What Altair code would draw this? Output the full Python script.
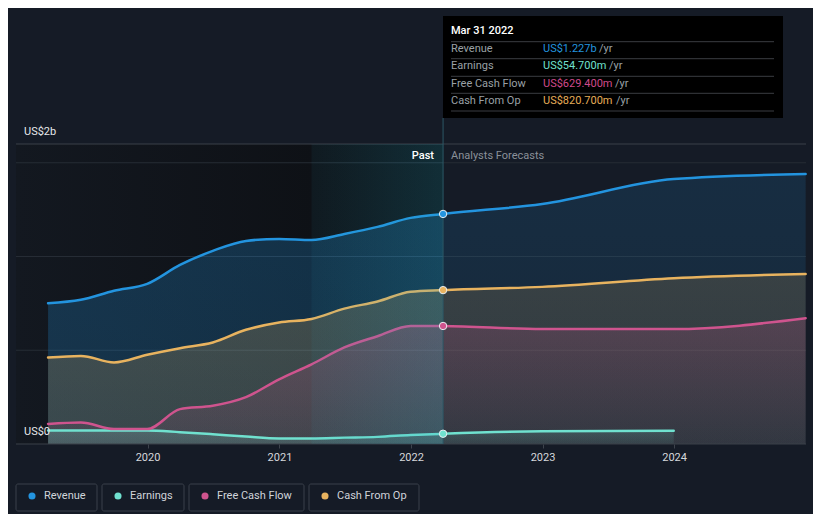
import altair as alt
import pandas as pd

# ---------------- data ----------------
dates = ["2019-03-31", "2019-06-30", "2019-09-30", "2019-12-31",
         "2020-03-31", "2020-06-30", "2020-09-30", "2020-12-31",
         "2021-03-31", "2021-06-30", "2021-09-30", "2021-12-31",
         "2022-03-31", "2022-12-31", "2023-12-31", "2024-12-31"]
# values in US$ billions
revenue = [0.751, 0.769, 0.817, 0.854, 0.955, 1.030, 1.083, 1.094,
           1.088, 1.120, 1.158, 1.206, 1.227, 1.280, 1.413, 1.440]
earnings = [0.072, 0.072, 0.072, 0.072, 0.063, 0.052, 0.040, 0.030,
            0.030, 0.034, 0.038, 0.048, 0.0547, 0.068, 0.071]
free_cash_flow = [0.107, 0.115, 0.080, 0.080, 0.186, 0.204, 0.250, 0.345,
                  0.425, 0.515, 0.575, 0.630, 0.6294, 0.613, 0.613, 0.671]
cash_from_op = [0.461, 0.470, 0.435, 0.476, 0.511, 0.541, 0.609, 0.648,
                0.667, 0.722, 0.760, 0.812, 0.8207, 0.838, 0.884, 0.907]

series_names = ["Revenue", "Earnings", "Free Cash Flow", "Cash From Op"]
series_colors = ["#2394df", "#70e1cf", "#cf548e", "#e8b35f"]
series_rgb = ["35,148,223", "112,225,207", "207,84,142", "232,179,95"]
tooltip_values = ["US$1.227b", "US$54.700m", "US$629.400m", "US$820.700m"]
tooltip_value_colors = ["#2394df", "#70e1cf", "#cf4a8c", "#e6ad58"]

x_ticks = [2020, 2021, 2022, 2023, 2024]
y_grid = [0.5, 1.0, 1.5]
y_top = 1.6
highlight_date = "2022-03-31"
highlight_label = "Mar 31 2022"
past_start = "2019-01-01"
ltm_start = "2021-03-31"
y_labels = ["US$2b", "US$0"]

# ---------------- tables ----------------
rows = []
for name, vals in zip(series_names, [revenue, earnings, free_cash_flow, cash_from_op]):
    for d, v in zip(dates, vals):
        rows.append({"date": d, "series": name, "value": v})
df = pd.DataFrame(rows)
df_hl = df[df["date"] == highlight_date]
df_past = df[df["date"] <= highlight_date]
df_fc = df[df["date"] >= highlight_date]

regions = pd.DataFrame({"start": [past_start], "end": [highlight_date]})
ltm = pd.DataFrame({"start": [ltm_start], "end": [highlight_date]})
grid_df = pd.DataFrame({"v": y_grid})
top_df = pd.DataFrame({"v": [y_top]})
zero_df = pd.DataFrame({"v": [0.0]})
hl_df = pd.DataFrame({"date": [highlight_date]})

FONT = "Roboto"
W, H = 790, 300

xscale = alt.Scale(type="utc",
                   domain=[alt.DateTime(year=2019, month=1, date=1, utc=True),
                           alt.DateTime(year=2025, month=1, date=1, utc=True)])
yscale = alt.Scale(domain=[0, y_top], nice=False, zero=True)
xaxis = alt.Axis(values=[alt.DateTime(year=y, month=1, date=1, utc=True) for y in x_ticks],
                 format="%Y", title=None, domain=False, grid=False,
                 tickColor="#3d434c", tickSize=4, labelColor="#d5d8dc",
                 labelFontSize=11, labelPadding=3, labelFont=FONT)


def xenc(field):
    return alt.X(f"{field}:T", scale=xscale, axis=xaxis)


def x2enc(field):
    return alt.X2(f"{field}:T")


yenc = alt.Y("value:Q", scale=yscale, axis=None)
color_scale = alt.Scale(domain=series_names, range=series_colors)

layers = []

# darker "past" background
layers.append(
    alt.Chart(regions).mark_rect(color={
        "gradient": "linear", "x1": 0, "y1": 0, "x2": 1, "y2": 0,
        "stops": [{"offset": 0, "color": "#131820"},
                  {"offset": 0.7, "color": "#0e1116"},
                  {"offset": 1, "color": "#0c0f13"}]}).encode(
        x=xenc("start"), x2=x2enc("end"), y=alt.value(0), y2=alt.value(H))
)

# grid lines
layers.append(
    alt.Chart(grid_df).mark_rule(color="#262c35", strokeWidth=1).encode(
        y=alt.Y("v:Q", scale=yscale, axis=None))
)

# areas: past (stronger) and forecast (softer)
past_tops = [0.25, 0.20, 0.24, 0.22]
past_bots = [0.22, 0.14, 0.08, 0.16]
fc_tops = [0.15, 0.16, 0.20, 0.16]
fc_bots = [0.11, 0.07, 0.04, 0.10]
for data, tops, bots in [(df_past, past_tops, past_bots), (df_fc, fc_tops, fc_bots)]:
    for idx in [0, 3, 2, 1]:
        name = series_names[idx]
        rgb = series_rgb[idx]
        layers.append(
            alt.Chart(data).transform_filter(alt.datum.series == name).mark_area(
                interpolate="monotone",
                color={"gradient": "linear", "x1": 0, "y1": 0, "x2": 0, "y2": 1,
                       "stops": [{"offset": 0, "color": f"rgba({rgb},{tops[idx]})"},
                                 {"offset": 1, "color": f"rgba({rgb},{bots[idx]})"}]}
            ).encode(x=xenc("date"), y=yenc)
        )

# top and bottom lines
layers.append(alt.Chart(top_df).mark_rule(color="#3b4049", strokeWidth=1).encode(
    y=alt.Y("v:Q", scale=yscale, axis=None)))
layers.append(alt.Chart(zero_df).mark_rule(color="#3b4049", strokeWidth=1).encode(
    y=alt.Y("v:Q", scale=yscale, axis=None)))

# lines
layers.append(
    alt.Chart(df).mark_line(interpolate="monotone", strokeWidth=2.5, strokeCap="round").encode(
        x=xenc("date"), y=yenc,
        color=alt.Color("series:N", scale=color_scale, legend=None),
        detail="series:N")
)

# last-twelve-months teal overlay
layers.append(
    alt.Chart(ltm).mark_rect(color={
        "gradient": "linear", "x1": 0, "y1": 0, "x2": 1, "y2": 0,
        "stops": [{"offset": 0, "color": "rgba(40,170,200,0.06)"},
                  {"offset": 1, "color": "rgba(40,170,200,0.20)"}]}).encode(
        x=xenc("start"), x2=x2enc("end"), y=alt.value(0), y2=alt.value(H))
)

# vertical marker line at highlight date
layers.append(
    alt.Chart(hl_df).mark_rule(color="#2c5865", strokeWidth=1).encode(
        x=xenc("date"), y=alt.value(-26), y2=alt.value(H))
)

# highlight points
layers.append(
    alt.Chart(df_hl).mark_circle(size=55, opacity=1, stroke="#e8eef2", strokeWidth=1).encode(
        x=xenc("date"), y=yenc,
        color=alt.Color("series:N", scale=color_scale, legend=None))
)


def txt(text, x, y, color="#e6e8eb", size=11, align="left", weight="normal"):
    return alt.Chart(pd.DataFrame({"t": [text]})).mark_text(
        align=align, baseline="middle", font=FONT, fontSize=size,
        color=color, fontWeight=weight).encode(
        text="t:N", x=alt.value(x), y=alt.value(y))


def box(x1, x2, y1, y2, fill=None, stroke=None, radius=0):
    kw = {}
    if fill is not None:
        kw["fill"] = fill
    else:
        kw["fillOpacity"] = 0
    if stroke is not None:
        kw["stroke"] = stroke
        kw["strokeWidth"] = 1
    if radius:
        kw["cornerRadius"] = radius
    return alt.Chart(pd.DataFrame({"a": [0]})).mark_rect(**kw).encode(
        x=alt.value(x1), x2=alt.value(x2), y=alt.value(y1), y2=alt.value(y2))


def hline(x1, x2, y, color):
    return alt.Chart(pd.DataFrame({"a": [0]})).mark_rule(color=color, strokeWidth=1).encode(
        x=alt.value(x1), x2=alt.value(x2), y=alt.value(y))


# Past / forecast labels
layers.append(txt("Past", 418, 12, color="#ffffff", align="right", weight=500))
layers.append(txt("Analysts Forecasts", 435, 12, color="#8a9099"))

# y labels
layers.append(txt(y_labels[0], 8, -12))
layers.append(txt(y_labels[1], 8, 288))

# tooltip box
layers.append(box(427, 767, -128, -26, fill="#000000"))
layers.append(txt(highlight_label, 435, -113, color="#ffffff", weight=500))
sep_y = [-102.3, -85.3, -67.7, -50.7, -33]
for sy in sep_y:
    layers.append(hline(435, 758, sy, "#3a3d42"))
row_y = [-94.7, -78, -60.2, -43]
yr_x = [583, 593, 599, 600]
for i, name in enumerate(series_names):
    layers.append(txt(name, 435, row_y[i], color="#9aa0a6"))
    layers.append(txt(tooltip_values[i], 527, row_y[i], color=tooltip_value_colors[i]))
    layers.append(txt("/yr", yr_x[i], row_y[i], color="#9aa0a6"))

# legend
leg_boxes = [(0, 81), (86, 168), (173, 288), (293, 403)]
for i, name in enumerate(series_names):
    bx1, bx2 = leg_boxes[i]
    layers.append(box(bx1, bx2, 340, 367, stroke="#3a404a", radius=2))
    layers.append(alt.Chart(pd.DataFrame({"a": [0]})).mark_circle(
        size=50, opacity=1, color=series_colors[i]).encode(
        x=alt.value(bx1 + 16), y=alt.value(352)))
    layers.append(txt(name, bx1 + 28, 352, color="#d0d4da"))

chart = alt.layer(*layers).properties(
    width=W, height=H,
    padding={"left": 8, "top": 136, "right": 7, "bottom": 70},
    autosize=alt.AutoSizeParams(type="none"),
    background="#151b26",
).configure_view(stroke=None)

chart.save("out.html", embed_options={"renderer": "svg", "actions": False})
